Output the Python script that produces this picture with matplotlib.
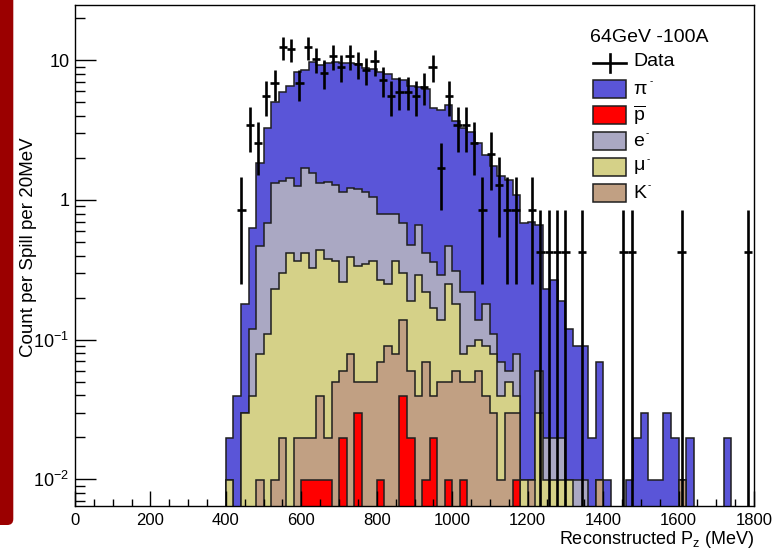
import numpy as np
import matplotlib
matplotlib.use("Agg")
import matplotlib.pyplot as plt
from matplotlib.patches import Rectangle, FancyBboxPatch
from matplotlib.lines import Line2D
from matplotlib.transforms import Affine2D
from matplotlib.ticker import FixedLocator, MultipleLocator, LogLocator, NullFormatter

plt.rcParams['font.family'] = ['Liberation Sans', 'DejaVu Sans']
plt.rcParams['mathtext.fontset'] = 'custom'
plt.rcParams['mathtext.rm'] = 'Liberation Sans'
plt.rcParams['mathtext.it'] = 'Liberation Sans'
plt.rcParams['mathtext.sf'] = 'Liberation Sans'

# ---- MC: counts per 20 MeV bin, first bin starts at 400 MeV ----
first_edge = 400
bin_width = 20
mc_weight = 0.00995

pbar = [0, 0, 0, 0, 0, 0, 0, 0, 0, 0, 1, 1, 1, 1, 0, 2, 0, 3, 0, 0,
        1, 0, 0, 4, 2, 0, 1, 2, 0, 1, 0, 1, 0, 0, 0, 0, 0, 0, 1, 0,
        0, 0, 0, 0, 0, 0, 0, 0, 0, 0, 0, 0, 0, 0, 0, 0, 0, 0, 0, 0,
        0, 0, 0, 0, 0, 0, 0]
kaon = [0, 0, 0, 0, 1, 0, 1, 2, 0, 2, 1, 1, 3, 1, 5, 4, 8, 2, 5, 5,
        6, 9, 8, 10, 4, 4, 6, 2, 5, 4, 6, 4, 5, 6, 4, 3, 1, 3, 2, 0,
        1, 0, 0, 0, 0, 0, 0, 0, 0, 1, 0, 0, 0, 0, 0, 0, 0, 0, 0, 0,
        1, 0, 0, 0, 0, 0, 0]
muon = [1, 0, 3, 4, 7, 11, 22, 28, 42, 35, 40, 31, 40, 36, 32, 20, 31, 29, 30, 32,
        20, 16, 29, 16, 13, 25, 15, 13, 9, 20, 12, 3, 4, 4, 5, 5, 3, 2, 1, 1,
        0, 3, 1, 1, 1, 1, 0, 0, 0, 0, 0, 0, 0, 0, 0, 0, 0, 0, 0, 0,
        0, 0, 0, 0, 0, 0, 0]
elec = [0, 0, 0, 8, 39, 58, 110, 107, 102, 89, 128, 125, 89, 97, 92, 88, 84, 87, 79, 69,
        53, 55, 43, 39, 29, 38, 20, 19, 15, 22, 13, 14, 13, 4, 9, 3, 3, 1, 4, 0,
        0, 3, 1, 1, 1, 0, 1, 1, 0, 0, 0, 0, 0, 0, 0, 0, 0, 0, 0, 0,
        0, 0, 0, 0, 0, 0, 0]
pion = [1, 4, 15, 51, 138, 259, 376, 462, 514, 708, 684, 827, 797, 830, 856, 841, 832, 824, 771, 758,
        754, 724, 654, 655, 610, 576, 581, 419, 413, 435, 340, 306, 288, 242, 193, 165, 143, 134, 102, 68,
        69, 61, 21, 25, 17, 11, 8, 8, 2, 6, 1, 0, 0, 1, 2, 3, 1, 1, 3, 2,
        0, 2, 0, 0, 0, 0, 2]

# ---- Data: bin centres (MeV) and counts ----
data_weight = 0.427
data_halfwidth = 11
data_x = [441, 463, 485, 507, 529, 551, 573, 595, 617, 639, 661, 684, 706, 728, 750,
          772, 794, 816, 838, 860, 882, 904, 926, 948, 970, 992, 1014, 1036, 1058, 1080,
          1102, 1124, 1146, 1168, 1212, 1234, 1256, 1278, 1300, 1344, 1454, 1476, 1608, 1784]
data_n = [2, 8, 6, 13, 16, 29, 28, 16, 29, 24, 19, 25, 21, 25, 22,
          20, 23, 17, 13, 14, 14, 13, 15, 21, 4, 13, 8, 8, 6, 2,
          5, 3, 2, 2, 2, 1, 1, 1, 1, 1, 1, 1, 1, 1]

species = ["pbar", "kaon", "muon", "elec", "pion"]
colors = {"pion": "#5a55d8", "pbar": "#ff0000", "elec": "#aaa8c3",
          "muon": "#d5d188", "kaon": "#c1a083"}
labels = {"pion": r"$\pi$", "pbar": r"$\overline{\mathrm{p}}$", "elec": "e",
          "muon": r"$\mu$", "kaon": "K"}
has_minus = {"pion": True, "pbar": False, "elec": True, "muon": True, "kaon": True}
counts = {"pbar": pbar, "kaon": kaon, "muon": muon, "elec": elec, "pion": pion}

W, H = 783, 552
fig = plt.figure(figsize=(W / 100, H / 100), dpi=100)
pix = Affine2D().scale(1.0 / W, -1.0 / H).translate(0, 1) + fig.transFigure

# slide decoration on the left
fig.patches.append(FancyBboxPatch((-12, -12), 25.3, 537, boxstyle="round,pad=0,rounding_size=6",
                                  transform=pix, facecolor="#9b0000", edgecolor="none"))

ax = fig.add_axes([75 / W, 1 - 506 / H, 679 / W, 501.3 / H])

nb = len(pion)
edges = first_edge + bin_width * np.arange(nb + 1)
stack = np.cumsum([np.array(counts[s], dtype=float) for s in species], axis=0) * mc_weight
floor = 1e-5

# draw the stack from the total downwards, like THStack
for i in range(len(species) - 1, -1, -1):
    lev = np.where(stack[i] > 0, stack[i], floor)
    ax.stairs(lev, edges, baseline=floor, fill=True, facecolor=colors[species[i]],
              edgecolor="#1e1e1e", linewidth=1.1)

dx = np.array(data_x, dtype=float)
dn = np.array(data_n, dtype=float)
dv = dn * data_weight
de = np.sqrt(dn) * data_weight
lower = np.minimum(de, dv * 0.99999)
ax.errorbar(dx, dv, xerr=data_halfwidth, yerr=[lower, de], fmt="none",
            ecolor="black", elinewidth=1.9, capsize=0)

ax.set_yscale("log")
ax.set_xlim(0, 1800)
ax.set_ylim(0.00645, 25.0)

ax.xaxis.set_major_locator(MultipleLocator(200))
ax.xaxis.set_minor_locator(MultipleLocator(50))
ax.yaxis.set_major_locator(FixedLocator([0.01, 0.1, 1, 10]))
ax.yaxis.set_minor_locator(LogLocator(base=10, subs=np.arange(2, 10)))
ax.yaxis.set_minor_formatter(NullFormatter())
ax.set_yticklabels([r"$10^{-2}$", r"$10^{-1}$", "1", "10"])
ax.tick_params(axis="both", which="both", direction="in", top=False, right=False, width=1)
ax.tick_params(axis="x", which="major", length=11, labelsize=12, pad=5)
ax.tick_params(axis="x", which="minor", length=5)
ax.tick_params(axis="y", which="major", length=15, labelsize=13, pad=4)
ax.tick_params(axis="y", which="minor", length=7.5)
for sp in ax.spines.values():
    sp.set_linewidth(1)

ax.set_ylabel("Count per Spill per 20MeV", fontsize=13.5, va="center")
ax.yaxis.set_label_coords(-0.0688, 0.517)
ax.set_xlabel(r"Reconstructed P$_{z}$ (MeV)", fontsize=13, ha="right", va="center")
ax.xaxis.set_label_coords(1.0, -0.067)

# legend, drawn by hand in pixel coordinates
fig.text(590, 38, "64GeV -100A", transform=pix, fontsize=14, va="center", ha="left")
fig.add_artist(Line2D([593, 626], [63, 63], transform=pix, color="black", lw=1.9))
fig.add_artist(Line2D([609.5, 609.5], [54, 72], transform=pix, color="black", lw=1.9))
fig.text(633, 62, "Data", transform=pix, fontsize=14, va="center", ha="left")
legend_order = ["pion", "pbar", "elec", "muon", "kaon"]
renderer = fig.canvas.get_renderer()
for j, s in enumerate(legend_order):
    yc = 89 + 26.1 * j
    fig.patches.append(Rectangle((593, yc - 9), 33, 18, transform=pix,
                                 facecolor=colors[s], edgecolor="#1e1e1e", lw=1.1))
    t = fig.text(633, yc, labels[s], transform=pix, fontsize=14, va="center", ha="left")
    if has_minus[s]:
        # small superscript minus just right of the symbol, ROOT style
        x_end = t.get_window_extent(renderer).x1
        fig.text(x_end + 1.5, H - (yc - 8), "-", transform=None, fontsize=7,
                 va="center", ha="left")

fig.savefig("out.png", dpi=100)
